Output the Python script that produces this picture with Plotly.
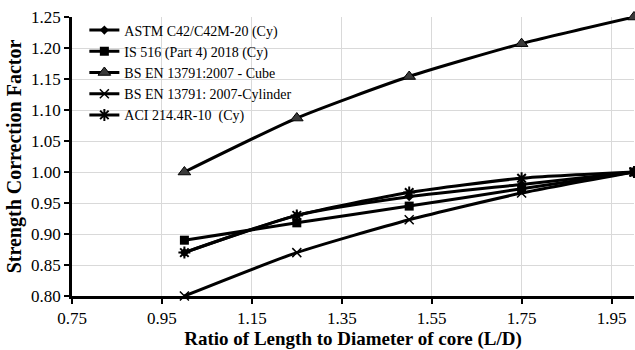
import plotly.graph_objects as go

ld_ratio = [1.0, 1.25, 1.5, 1.75, 2.0]
astm = [0.87, 0.93, 0.96, 0.98, 1.00]
is516 = [0.89, 0.918, 0.945, 0.973, 1.00]
bs_cube = [1.00, 1.087, 1.154, 1.207, 1.25]
bs_cyl = [0.80, 0.87, 0.923, 0.966, 1.00]
aci = [0.87, 0.93, 0.967, 0.99, 1.00]

series_names = [
    "ASTM C42/C42M-20 (Cy)",
    "IS 516 (Part 4) 2018 (Cy)",
    "BS EN 13791:2007 - Cube",
    "BS EN 13791: 2007-Cylinder",
    "ACI 214.4R-10  (Cy)",
]
series_values = [astm, is516, bs_cube, bs_cyl, aci]
marker_styles = [
    dict(symbol="diamond", size=7, color="black"),
    dict(symbol="square", size=9, color="black"),
    dict(symbol="triangle-up", size=11, color="#3a3a3a", line=dict(color="black", width=1)),
    dict(symbol="x-thin-open", size=9, color="black", line=dict(color="black", width=1.5)),
    dict(symbol="asterisk-open", size=10, color="black", line=dict(color="black", width=2)),
]

fig = go.Figure()
for name, vals, mk in zip(series_names, series_values, marker_styles):
    fig.add_trace(go.Scatter(
        x=ld_ratio, y=vals, name=name, mode="lines+markers",
        line=dict(color="black", width=3, shape="spline", smoothing=0.6),
        marker=mk, cliponaxis=False,
    ))

# white legend backdrop that hides gridlines but stays beneath the data lines
fig.add_shape(type="rect", xref="paper", yref="paper",
              x0=0.004, x1=0.378, y0=0.595, y1=0.995,
              fillcolor="white", line=dict(width=0), layer="between")

font_family = "Liberation Serif"
fig.update_layout(
    width=635, height=350,
    margin=dict(l=72, r=1, t=17, b=54),
    paper_bgcolor="white", plot_bgcolor="white",
    font=dict(family=font_family, color="black", size=17),
    showlegend=True,
    legend=dict(
        x=0.022, y=1.009, xanchor="left", yanchor="top",
        bgcolor="rgba(0,0,0,0)", borderwidth=0,
        font=dict(family=font_family, size=14, color="black"),
        itemwidth=30, tracegroupgap=0,
    ),
    xaxis=dict(
        range=[0.75, 2.0], tick0=0.75, dtick=0.2, tickformat=".2f",
        showline=True, linecolor="black", linewidth=2.5,
        ticks="outside", ticklen=5, tickwidth=2, tickcolor="black",
        showgrid=True, gridcolor="#d9d9d9", gridwidth=1, zeroline=False,
        tickfont=dict(family=font_family, size=17),
        title=dict(text="<b>Ratio of Length to Diameter of core (L/D)</b>",
                   font=dict(family=font_family, size=19), standoff=4),
    ),
    yaxis=dict(
        range=[0.8, 1.25], tick0=0.8, dtick=0.05, tickformat=".2f",
        showline=True, linecolor="black", linewidth=2.5,
        ticks="outside", ticklen=5, tickwidth=2, tickcolor="black",
        showgrid=True, gridcolor="#d9d9d9", gridwidth=1, zeroline=False,
        tickfont=dict(family=font_family, size=17),
        title=dict(text="<b>Strength Correction Factor</b>",
                   font=dict(family=font_family, size=20), standoff=5),
    ),
)

fig.write_html("out.html")
